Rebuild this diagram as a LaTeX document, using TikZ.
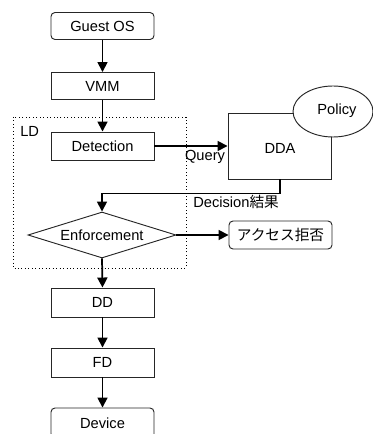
\documentclass[tikz,border=0pt]{standalone}
\usepackage{fontspec}
\setmainfont{Liberation Sans}
\newfontfamily\cjk{Noto Sans CJK JP}
\usetikzlibrary{shapes.geometric,arrows.meta}
\tikzset{
  txt/.style={font=\fontsize{11pt}{13pt}\selectfont},
  boxnode/.style={draw=black!85, line width=0.7pt, minimum width=103*0.75pt, minimum height=27*0.75pt, inner sep=0pt, txt, fill=white},
  rbox/.style={boxnode, rounded corners=3pt},
  flow/.style={line width=1.3pt, -{Triangle[length=7.5pt,width=7.5pt]}},
}
\begin{document}
\begin{tikzpicture}[x=0.75pt,y=-0.75pt]
\useasboundingbox (0,0) rectangle (373,434);
\clip (0,0) rectangle (373,434);
% LD dotted region
\draw[dotted, line width=0.6pt] (13,117) rectangle (186,268);
\node[anchor=west, txt, inner sep=0pt] (ld) at (20,131) {LD};
% nodes
\node[rbox] (guest) at (102.5,26) {Guest OS};
\node[boxnode] (vmm) at (102.5,86) {VMM};
\node[boxnode, minimum height=28*0.75pt] (det) at (102.5,146) {Detection};
\node[boxnode, minimum width=103*0.75pt, minimum height=66*0.75pt] (dda) at (279.5,146) {};
\node[txt] (ddat) at (280,148) {DDA};
\node[ellipse, draw=black!85, line width=0.7pt, fill=white, minimum width=80*0.75pt, minimum height=51*0.75pt, inner sep=0pt] (pol) at (333,111.5) {};
\node[txt] (polt) at (337,111) {Policy};
\node[diamond, aspect=3.2, draw=black!85, line width=0.7pt, minimum width=148*0.75pt, minimum height=46*0.75pt, inner sep=0pt, txt] (enf) at (102,235) {Enforcement};
\node[rbox, minimum height=28*0.75pt] (deny) at (280.5,235) {\cjk アクセス拒否};
\node[boxnode, minimum height=29*0.75pt] (dd) at (102.5,302.5) {DD};
\node[boxnode, minimum height=29*0.75pt] (fd) at (102.5,362.5) {FD};
\node[rbox, minimum height=30*0.75pt] (dev) at (102.5,423) {Device};
% labels
\node[txt, inner sep=0pt] (q) at (205,157) {Query};
\node[txt, anchor=west, inner sep=0pt] (dec) at (193,202) {Decision\cjk 結果};
% connectors
\draw[flow] (guest.south) -- (vmm.north);
\draw[flow] (vmm.south) -- (det.north);
\draw[flow] (det.east) -- (dda.west);
\draw[flow] (dda.south -| ddat.south) -- ++(0,14) -| (enf.north);
\draw[flow] (enf.east) -- (deny.west);
\draw[flow] (enf.south) -- (dd.north);
\draw[flow] (dd.south) -- (fd.north);
\draw[flow] (fd.south) -- (dev.north);
\end{tikzpicture}
\end{document}
